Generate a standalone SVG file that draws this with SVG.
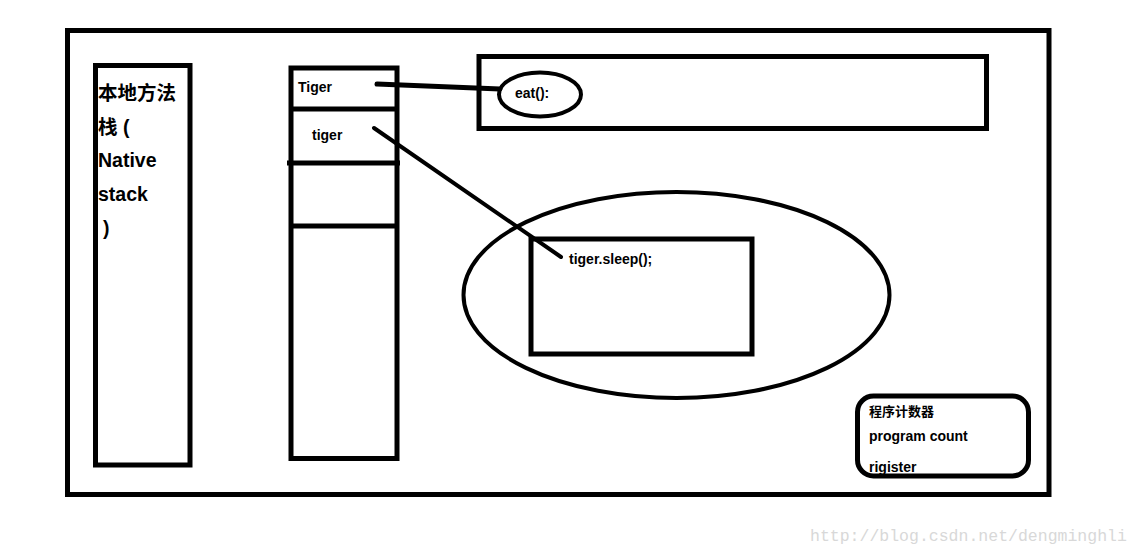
<svg xmlns="http://www.w3.org/2000/svg" width="1142" height="556" viewBox="0 0 1142 556">
<style>
.box{fill:none;stroke:#000;stroke-width:5}
.ln{fill:none;stroke:#000;stroke-linecap:round}
.t{font-family:"Liberation Sans","Noto Sans CJK SC",Arial,sans-serif;font-weight:bold;fill:#000}
.wm{font-family:"Liberation Mono",monospace;fill:#d8d8d8;font-size:16.5px}
</style>
<rect width="1142" height="556" fill="#fff"/>
<g id="frame"><rect class="box" x="67.5" y="30.5" width="981.5" height="464"/></g>
<g id="native-stack">
<rect class="box" x="95.5" y="65.5" width="94.5" height="399.5"/>
<text class="t" font-size="19.5" x="98" y="100">本地方法</text>
<text class="t" font-size="19.5" x="98" y="134">栈 (</text>
<text class="t" font-size="19.5" x="98" y="167">Native</text>
<text class="t" font-size="19.5" x="98" y="201">stack</text>
<text class="t" font-size="19.5" x="103" y="235">)</text>
</g>
<g id="stack">
<rect class="box" x="291" y="68" width="106" height="390.5"/>
<line class="box" x1="291" y1="109" x2="397" y2="109"/>
<line class="box" x1="287" y1="163" x2="400" y2="163"/>
<line class="box" x1="291" y1="226" x2="397" y2="226"/>
<text class="t" font-size="14" x="298" y="92">Tiger</text>
<text class="t" font-size="14" x="312" y="140">tiger</text>
</g>
<g id="method-area">
<rect class="box" x="479" y="56.5" width="507.5" height="72"/>
<ellipse class="ln" stroke-width="4" cx="540" cy="94.5" rx="41" ry="22"/>
<text class="t" font-size="14" x="515" y="98">eat():</text>
</g>
<g id="heap">
<ellipse class="ln" stroke-width="4" cx="676.5" cy="295" rx="213" ry="103"/>
<rect class="box" x="531" y="239" width="221" height="115"/>
<text class="t" font-size="14" x="569" y="264">tiger.sleep();</text>
</g>
<g id="pc-register">
<rect class="box" x="857.5" y="396" width="171" height="80" rx="16"/>
<text class="t" font-size="13" x="869" y="416">程序计数器</text>
<text class="t" font-size="14" x="869" y="441">program count</text>
<text class="t" font-size="14" x="869" y="472">rigister</text>
</g>
<g id="connectors">
<line class="ln" stroke-width="5" x1="377" y1="84" x2="500" y2="89"/>
<line class="ln" stroke-width="4" x1="374" y1="128" x2="561" y2="257"/>
</g>
<text class="wm" x="810" y="541">http://blog.csdn.net/dengminghli</text>
</svg>
